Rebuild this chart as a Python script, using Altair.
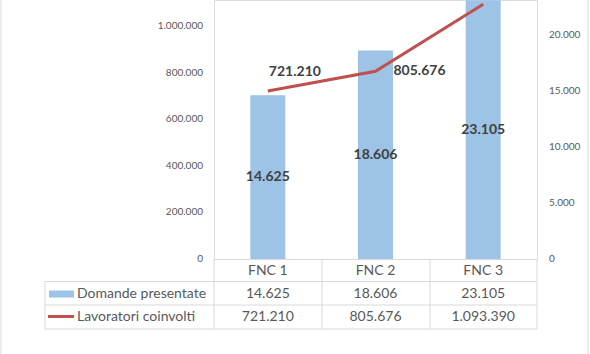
import altair as alt
import pandas as pd

categories = ["FNC 1", "FNC 2", "FNC 3"]
domande = [14625, 18606, 23105]
lavoratori = [721210, 805676, 1093390]
series_names = ["Domande presentate", "Lavoratori coinvolti"]
left_ticks = [0, 200000, 400000, 600000, 800000, 1000000]
right_ticks = [0, 5000, 10000, 15000, 20000]

BLUE = "#9DC3E6"
RED = "#C0504D"
GRID = "#D9D9D9"
TXT = "#595959"
FONT = "Lato"

df = pd.DataFrame({"cat": categories, "dom": domande, "lav": lavoratori})
dotfmt = "replace(format({}, ','), /,/g, '.')"

base = alt.Chart(df).transform_calculate(
    dom_lbl=dotfmt.format("datum.dom"),
    lav_lbl=dotfmt.format("datum.lav"),
    dom_half="datum.dom / 2",
)

xenc = alt.X("cat:N", sort=categories, axis=None,
             scale=alt.Scale(paddingInner=0.675, paddingOuter=0.3375))

scR = alt.Scale(domain=[0, 23125], nice=False, zero=True)
scL = alt.Scale(domain=[0, 1111600], nice=False, zero=True)

# right-scale group: bars + their labels + right tick labels
bars = base.mark_bar(color=BLUE).encode(
    x=xenc, y=alt.Y("dom:Q", scale=scR, axis=None))
bar_lbl = base.mark_text(font=FONT, fontSize=14, fontWeight="bold", color="#404040").encode(
    x=xenc, y=alt.Y("dom_half:Q", scale=scR, axis=None), text="dom_lbl:N")
rticks = alt.Chart(pd.DataFrame({"dom": right_ticks})).transform_calculate(
    t=dotfmt.format("datum.dom")
).mark_text(font=FONT, fontSize=10, color=TXT, align="left").encode(
    x=alt.value(335), y=alt.Y("dom:Q", scale=scR, axis=None), text="t:N")
right_group = alt.layer(bars, bar_lbl, rticks)

# left-scale group: line + its labels + left tick labels
line = base.mark_line(color=RED, strokeWidth=3).encode(
    x=xenc, y=alt.Y("lav:Q", scale=scL, axis=None))
lbl1 = base.transform_filter("datum.cat == 'FNC 1'").mark_text(
    font=FONT, fontSize=14, fontWeight="bold", color="#404040", align="left", dx=1, dy=-19
).encode(x=xenc, y=alt.Y("lav:Q", scale=scL, axis=None), text="lav_lbl:N")
lbl2 = base.transform_filter("datum.cat == 'FNC 2'").mark_text(
    font=FONT, fontSize=14, fontWeight="bold", color="#404040", align="left", dx=18, dy=0
).encode(x=xenc, y=alt.Y("lav:Q", scale=scL, axis=None), text="lav_lbl:N")
lticks = alt.Chart(pd.DataFrame({"lav": left_ticks})).transform_calculate(
    t=dotfmt.format("datum.lav")
).mark_text(font=FONT, fontSize=10, color=TXT, align="right").encode(
    x=alt.value(-11), y=alt.Y("lav:Q", scale=scL, axis=None), text="t:N")
left_group = alt.layer(line, lbl1, lbl2, lticks)

one = alt.Chart(pd.DataFrame({"a": [0]}))


def rule(x, x2, y, y2, color=GRID, w=1):
    return one.mark_rule(color=color, strokeWidth=w).encode(
        x=alt.value(x), x2=alt.value(x2), y=alt.value(y), y2=alt.value(y2))


grid = [
    rule(0, 323, 259.5, 259.5),
    rule(-169, 323, 281.5, 281.5),
    rule(-169, 323, 305, 305),
    rule(-169, 323, 329, 329),
    rule(-169, -169, 281.5, 329),
    rule(0, 0, 259.5, 329),
    rule(108, 108, 259.5, 329),
    rule(216, 216, 259.5, 329),
    rule(323, 323, 259.5, 329),
    rule(-213, -213, 0, 354),
    rule(374, 374, 0, 354),
]

tstyle = dict(font=FONT, fontSize=14, color=TXT)
hdr = base.mark_text(**tstyle).encode(x=xenc, y=alt.value(270.5), text="cat:N")
row1 = base.mark_text(**tstyle).encode(x=xenc, y=alt.value(293.5), text="dom_lbl:N")
row2 = base.mark_text(**tstyle).encode(x=xenc, y=alt.value(317), text="lav_lbl:N")

names = pd.DataFrame({"n": series_names, "r": [0, 1]})
name1 = alt.Chart(names).transform_filter("datum.r == 0").mark_text(align="left", **tstyle).encode(
    x=alt.value(-137), y=alt.value(293.5), text="n:N")
name2 = alt.Chart(names).transform_filter("datum.r == 1").mark_text(align="left", **tstyle).encode(
    x=alt.value(-137), y=alt.value(317), text="n:N")
sw1 = one.mark_rect(color=BLUE).encode(
    x=alt.value(-165), x2=alt.value(-140), y=alt.value(290.5), y2=alt.value(297.5))
sw2 = rule(-166, -140, 316.5, 316.5, color=RED, w=3)

chart = alt.layer(
    right_group, left_group, *grid, hdr, row1, row2, name1, name2, sw1, sw2
).resolve_scale(y="independent").properties(
    width=323, height=259,
    padding={"left": 214, "top": 0, "right": 53, "bottom": 95},
    autosize="none",
).configure_view(stroke="transparent", strokeWidth=0, strokeOpacity=0).configure(
    font=FONT, background="white")

chart.save("out.html", embed_options={"renderer": "svg", "actions": False})
